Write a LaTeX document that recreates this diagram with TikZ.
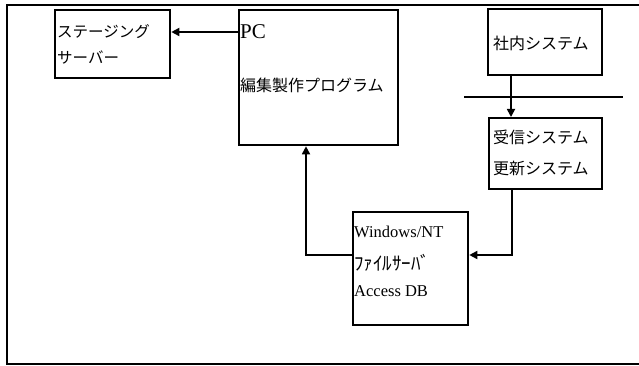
\documentclass[tikz,border=0pt]{standalone}
\usepackage{fontspec}
\setmainfont{Liberation Serif}
\newfontfamily\jp{Noto Sans CJK JP}
\usetikzlibrary{arrows.meta}
\begin{document}
\begin{tikzpicture}[x=1pt,y=-1pt,
  box/.style={draw, line width=2.3pt, inner sep=0pt, anchor=north west},
  conn/.style={line width=1.7pt},
  arr/.style={conn, -{Triangle[length=8pt,width=8pt]}},
  lbl/.style={anchor=west, inner sep=0pt},
  jpt/.style={lbl, font=\jp\fontsize{15.5}{16}\selectfont},
  lat/.style={lbl, font=\fontsize{16.5}{18}\selectfont}]
\useasboundingbox (0,0) rectangle (639,366);
% outer frame (open on the right)
\draw[line width=2.8pt] (639,5) -- (7,5) -- (7,364) -- (639,364);
% boxes
\node[box, minimum width=115pt, minimum height=68pt] (stg) at (54,9) {};
\node[box, minimum width=159pt, minimum height=135pt] (pc) at (238,9) {};
\node[box, minimum width=114pt, minimum height=66pt] (sha) at (487,8) {};
\node[box, minimum width=113pt, minimum height=71pt] (jus) at (488,117) {};
\node[box, minimum width=115pt, minimum height=113pt] (win) at (352,211) {};
% texts
\node[jpt] (t1) at (57,32) {ステージング};
\node[jpt] (t2) at (57,58) {サーバー};
\node[lat, font=\fontsize{21}{22}\selectfont] (t3) at (240,32) {PC};
\node[jpt, font=\jp\fontsize{16}{17}\selectfont] (t4) at (240,85) {編集製作プログラム};
\node[jpt, font=\jp\fontsize{16}{17}\selectfont] (t5) at (493,43) {社内システム};
\node[jpt, font=\jp\fontsize{16}{17}\selectfont] (t6) at (493,137) {受信システム};
\node[jpt, font=\jp\fontsize{16}{17}\selectfont] (t7) at (493,168) {更新システム};
\node[lat] (t8) at (354,232) {Windows/NT};
\node[jpt, font=\jp\fontsize{19}{20}\selectfont] (t9) at (354,263) {ﾌｧｲﾙｻｰﾊﾞ};
\node[lat] (t10) at (354,291) {Access DB};
% separator line
\coordinate (s1) at (464,97);
\coordinate (s2) at (623,97);
\draw[line width=2.2pt] (s1) -- (s2);
% connectors
\coordinate (y1) at (0,32);
\draw[arr] (pc.west |- y1) -- (stg.east |- y1);
\coordinate (x2) at (511,0);
\draw[arr] (x2 |- sha.south) -- (x2 |- jus.north);
\coordinate (x3) at (512,255);
\draw[arr] (x3 |- jus.south) -- (x3) -- (win.east |- x3);
\coordinate (x4) at (306,255);
\draw[arr] (win.west |- x4) -- (x4) -- (x4 |- pc.south);
\end{tikzpicture}
\end{document}
